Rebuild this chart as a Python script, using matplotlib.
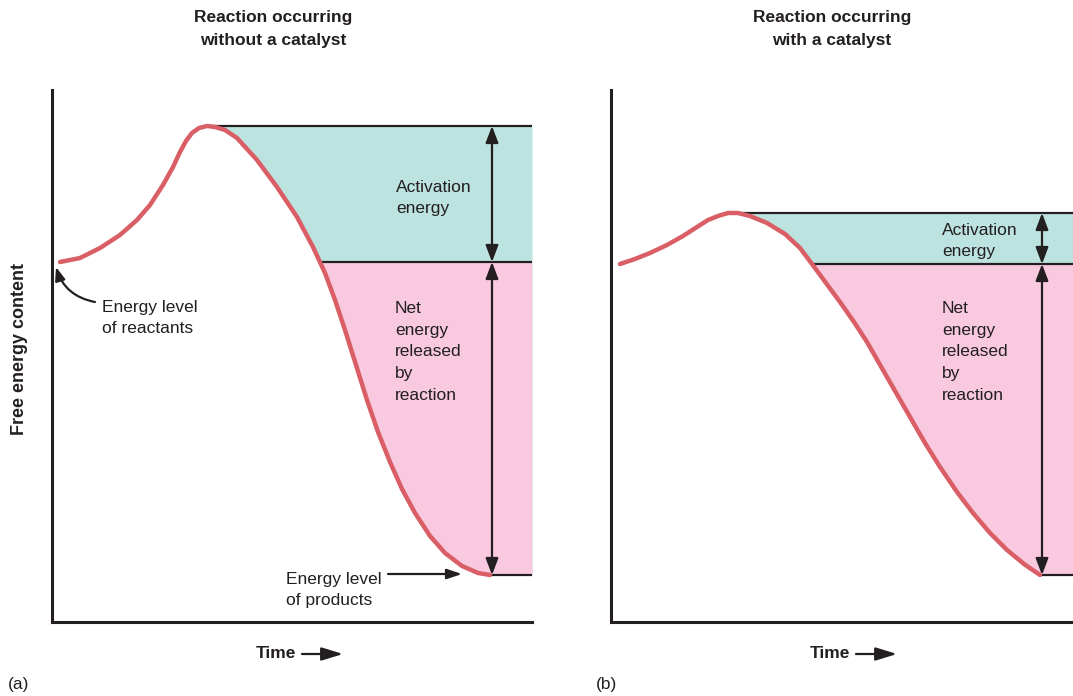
import matplotlib.pyplot as plt
from matplotlib.patches import FancyArrowPatch
import numpy as np

plt.rcParams['font.family'] = ['Liberation Sans', 'DejaVu Sans']

# Curves: time (px from y axis) and free energy (px above x axis)
time_a = [8, 28, 48, 68, 85, 98, 111, 121, 128, 134, 140, 147, 155, 163, 173, 185, 205, 225, 245,
          261, 273, 283, 293, 304, 315, 326, 338, 350, 363, 378, 393, 410, 426, 438]
energy_a = [360, 364, 374, 387, 402, 417, 437, 455, 470, 481, 489, 494, 496, 495, 492, 484, 462, 435, 405,
            375, 349, 322, 292, 257, 222, 190, 160, 133, 109, 86, 69, 56, 49, 47]
time_b = [9, 24, 39, 56, 72, 86, 97, 107, 117, 127, 139, 156, 174, 189, 201, 215, 229, 243, 256,
          276, 299, 314, 329, 346, 362, 379, 396, 413, 429]
energy_b = [358, 363, 369, 377, 386, 395, 402, 406, 409, 409, 406, 399, 388, 374, 358, 339, 320, 300, 280,
            245, 205, 179, 155, 130, 109, 89, 72, 58, 47]

titles = ["Reaction occurring\nwithout a catalyst", "Reaction occurring\nwith a catalyst"]
panel_tags = ["(a)", "(b)"]

W, H = 1073, 696
fig = plt.figure(figsize=(W / 100, H / 100), dpi=100)

ink = '#231F20'
red = '#D95E66'
teal = '#BDE3E0'
pink = '#F8C9DF'
fs = 12.5


def px(x, y):
    return x / W, 1 - y / H


def draw_panel(ax, t, e, xmax, arrow_t, act_xy, net_xy):
    t = np.array(t, dtype=float)
    e = np.array(e, dtype=float)
    ax.set_xlim(0, xmax)
    ax.set_ylim(0, 532)
    ip = int(np.argmax(e))
    peak = e[ip]
    start = e[0]
    prod = e[-1]
    xs = np.append(t[ip:], xmax)
    ys = np.append(e[ip:], prod)
    # teal: activation energy, pink: net energy released
    ax.fill_between(xs, ys, peak, color=teal, lw=0, zorder=1)
    ax.fill_between(xs, ys, start, where=ys <= start, interpolate=True, color=pink, lw=0, zorder=2)
    # where the descending curve crosses the starting level
    desc_t, desc_e = t[ip:], e[ip:]
    t_cross = np.interp(start, desc_e[::-1], desc_t[::-1])
    ax.hlines(peak, t[ip], xmax, color=ink, lw=1.6, zorder=3)
    ax.hlines(start, t_cross, xmax, color=ink, lw=1.6, zorder=3)
    ax.hlines(prod, t[-1], xmax, color=ink, lw=1.6, zorder=3)
    ax.plot(t, e, color=red, lw=3.2, solid_capstyle='round', solid_joinstyle='round', zorder=4)
    style = '<|-|>,head_length=1.0,head_width=0.38'
    ax.annotate('', xy=(arrow_t, peak), xytext=(arrow_t, start),
                arrowprops=dict(arrowstyle=style, color=ink, lw=1.6, shrinkA=0, shrinkB=0), zorder=5)
    ax.annotate('', xy=(arrow_t, start), xytext=(arrow_t, prod),
                arrowprops=dict(arrowstyle=style, color=ink, lw=1.6, shrinkA=0, shrinkB=0), zorder=5)
    ax.text(act_xy[0], act_xy[1], "Activation\nenergy", fontsize=fs, color=ink,
            ha='left', va='center', linespacing=1.55, zorder=6)
    ax.text(net_xy[0], net_xy[1], "Net\nenergy\nreleased\nby\nreaction", fontsize=fs, color=ink,
            ha='left', va='center', linespacing=1.55, zorder=6)
    for s in ['top', 'right']:
        ax.spines[s].set_visible(False)
    for s in ['left', 'bottom']:
        ax.spines[s].set_linewidth(2.2)
        ax.spines[s].set_color(ink)
        ax.spines[s].set_zorder(7)
    ax.set_xticks([])
    ax.set_yticks([])
    ax.patch.set_alpha(0)


ax_a = fig.add_axes([52 / W, 74 / H, 480 / W, 532 / H])
ax_b = fig.add_axes([611 / W, 74 / H, 462 / W, 532 / H])

draw_panel(ax_a, time_a, energy_a, 480, 440, (344, 424), (343, 270))
draw_panel(ax_b, time_b, energy_b, 462, 431, (331, 381), (331, 270))

# annotations in panel (a)
ax_a.text(50, 304, "Energy level\nof reactants", fontsize=fs, color=ink, ha='left', va='center',
          linespacing=1.45)
ax_a.annotate('', xy=(4, 355), xytext=(43, 320),
              arrowprops=dict(arrowstyle='-|>,head_length=0.8,head_width=0.3', color=ink, lw=1.6,
                              connectionstyle='arc3,rad=-0.3', shrinkA=0, shrinkB=0))
ax_a.text(234, 32, "Energy level\nof products", fontsize=fs, color=ink, ha='left', va='center',
          linespacing=1.45)
ax_a.annotate('', xy=(410, 48), xytext=(336, 48),
              arrowprops=dict(arrowstyle='-|>,head_length=0.9,head_width=0.3', color=ink, lw=1.6,
                              shrinkA=0, shrinkB=0))

# titles, axis labels, panel tags
for cx, title in zip([273, 832], titles):
    fig.text(*px(cx, 29), title, fontsize=fs, fontweight='bold', color=ink, ha='center', va='center',
             linespacing=1.6)
for tx, tag in zip([8, 596], panel_tags):
    fig.text(*px(tx, 684), tag, fontsize=fs, color=ink, ha='left', va='center')
for tx in [256, 810]:
    fig.text(*px(tx, 654), "Time", fontsize=fs, fontweight='bold', color=ink, ha='left', va='center')
    fig.add_artist(FancyArrowPatch(
        px(tx + 46, 654), px(tx + 87, 654), transform=fig.transFigure,
        arrowstyle='-|>,head_length=13,head_width=4', color=ink, lw=1.6, mutation_scale=1,
        shrinkA=0, shrinkB=0))
fig.text(*px(20, 349), "Free energy content", fontsize=13, fontweight='bold', color=ink,
         ha='center', va='center', rotation=90)

plt.savefig("out.png", dpi=100)
plt.close()
